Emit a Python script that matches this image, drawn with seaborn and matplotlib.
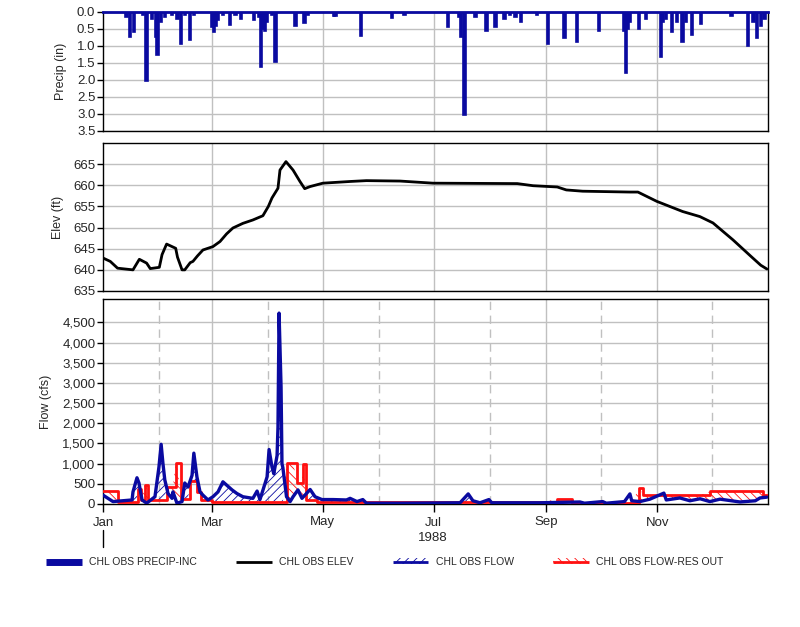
import matplotlib
matplotlib.use('Agg')
import matplotlib.dates as mdates
import matplotlib.ticker as mticker
import numpy as np
import pandas as pd
import seaborn as sns
from matplotlib import pyplot as plt
from matplotlib.lines import Line2D
from matplotlib.patches import Patch

# ---- data (day offset from 1988-01-01, value) ----
precip_day = [13, 15, 17, 22, 24, 27, 29, 30, 32, 34, 38, 41, 43, 45, 48, 50,
              60, 61, 62, 63, 66, 70, 73, 76, 83, 86, 87, 88, 89, 90, 93, 95,
              106, 111, 113, 127, 128, 142, 159, 166,
              190, 196, 197, 199, 205, 211, 216, 221, 224, 227, 230, 239,
              245, 254, 261, 273, 287, 288, 289, 290, 295, 299,
              307, 308, 310, 313, 316, 319, 321, 324, 329, 346, 355, 358, 360, 362, 364]
precip_in = [0.15, 0.75, 0.6, 0.1, 2.03, 0.2, 0.75, 1.27, 0.3, 0.15, 0.1, 0.2, 0.95, 0.1, 0.83, 0.1,
             0.45, 0.6, 0.4, 0.25, 0.1, 0.37, 0.1, 0.2, 0.25, 0.15, 1.62, 0.5, 0.55, 0.3, 0.1, 1.48,
             0.4, 0.33, 0.1, 0.13, 0.13, 0.7, 0.18, 0.1,
             0.44, 0.15, 0.75, 3.03, 0.15, 0.57, 0.45, 0.2, 0.1, 0.15, 0.3, 0.1,
             0.95, 0.76, 0.88, 0.55, 0.55, 1.78, 0.5, 0.3, 0.5, 0.2,
             1.32, 0.3, 0.2, 0.6, 0.3, 0.87, 0.3, 0.68, 0.35, 0.12, 1.0, 0.3, 0.76, 0.4, 0.2]

elev_day = [0, 4, 8, 16.5, 20, 24, 26, 31, 32.5, 35, 40, 41, 43.5, 45, 48, 49.5, 52, 55,
            60.5, 64.4, 68, 71.5, 77, 82.5, 88, 91, 93, 96.3, 97.4, 100.7, 104.6, 108.4,
            111, 114, 121, 136, 145, 163.5, 181.6, 228, 236.7, 250, 255, 264, 290, 294.4,
            304.8, 319, 328.5, 335.7, 346.7, 356.6, 362, 365.4]
elev_ft = [642.8, 642.0, 640.4, 640.0, 642.5, 641.6, 640.3, 640.6, 643.6, 646.1, 645.1, 643.0,
           640.0, 640.0, 641.7, 642.0, 643.3, 644.7, 645.5, 646.7, 648.5, 649.9, 651.0, 651.8,
           652.8, 655.0, 657.0, 659.3, 663.6, 665.6, 663.6, 660.9, 659.2, 659.7, 660.5, 660.9,
           661.1, 661.0, 660.5, 660.4, 659.9, 659.6, 658.9, 658.6, 658.4, 658.4, 656.2, 653.8,
           652.6, 651.1, 647.1, 643.2, 641.1, 640.2]

flow_day = [0, 5.5, 16, 16.5, 18.7, 19.8, 21.5, 24, 28.6, 30.8, 32, 33, 34, 35.8, 38, 38.5,
            40.7, 43.5, 45, 46.8, 49, 50, 51.7, 53.4, 55, 57.8, 60.5, 63.3, 66, 68, 71, 73.7,
            77, 82.5, 84.8, 86.4, 90.3, 91.4, 93, 94, 95.8, 96.3, 96.9, 98, 98.5, 99, 101,
            103, 104.6, 107.3, 109.5, 114, 116.7, 120.5, 126.6, 134, 136, 139.8, 143, 145,
            163.5, 196.5, 201, 203.6, 207.5, 212.4, 214, 240.5, 262.5, 265, 275, 277, 287,
            290, 291, 295.5, 301, 308.7, 310, 317.5, 323, 328.6, 334, 339.6, 350.6, 359,
            361.6, 365.4]
flow_cfs = [220, 60, 100, 300, 650, 520, 100, 20, 180, 920, 1480, 1000, 600, 260, 140, 300,
            20, 60, 520, 420, 710, 1260, 670, 300, 220, 100, 180, 300, 550, 470, 350, 260,
            180, 140, 320, 110, 670, 1350, 920, 750, 1200, 1900, 4730, 2900, 1000, 900, 180,
            60, 180, 350, 140, 360, 180, 110, 110, 100, 140, 60, 110, 20,
            20, 30, 250, 80, 30, 110, 30, 30, 50, 20, 60, 20, 60,
            250, 80, 60, 120, 270, 100, 150, 80, 130, 60, 120, 50, 80,
            150, 170]

resout_day = [0, 8, 19, 21, 23, 25, 35, 40, 43, 48, 52, 54, 60, 101, 107, 110, 112, 118,
              125, 250, 258, 295, 297, 334, 363, 366]
resout_cfs = [320, 60, 360, 100, 480, 100, 430, 1010, 130, 560, 300, 100, 60, 1020, 520, 990,
              100, 60, 40, 120, 30, 390, 220, 310, 230, 230]

month_major = ['1988-01-01', '1988-03-01', '1988-05-01', '1988-07-01', '1988-09-01', '1988-11-01']
month_minor = ['1988-02-01', '1988-04-01', '1988-06-01', '1988-08-01', '1988-10-01', '1988-12-01']
month_labels = ['Jan', 'Mar', 'May', 'Jul', 'Sep', 'Nov']

start = pd.Timestamp('1988-01-01')


def to_dates(days):
    return start + pd.to_timedelta(np.asarray(days, dtype=float), unit='D')


precip = pd.DataFrame({'date': to_dates(precip_day), 'value': precip_in})
elev = pd.DataFrame({'date': to_dates(elev_day), 'value': elev_ft})
flow = pd.DataFrame({'date': to_dates(flow_day), 'value': flow_cfs})
resout = pd.DataFrame({'date': to_dates(resout_day), 'value': resout_cfs})

BLUE = '#0a0aa0'
RED = '#ff1010'
GRID = '#c0c0c0'
FS = 9.5

sns.set_theme(style='white')
plt.rcParams['font.family'] = ['Liberation Sans', 'DejaVu Sans']
plt.rcParams['hatch.linewidth'] = 0.6

fig = plt.figure(figsize=(8, 6.27), dpi=100)
L, W = 103 / 800, 665 / 800
ax1 = fig.add_axes([L, 1 - 131 / 627, W, 119 / 627])
ax2 = fig.add_axes([L, 1 - 291 / 627, W, 148 / 627])
ax3 = fig.add_axes([L, 1 - 504 / 627, W, 205 / 627])

xmin, xmax = start, pd.Timestamp('1989-01-01')
major = pd.to_datetime(month_major)
minor = pd.to_datetime(month_minor)

for ax in (ax1, ax2, ax3):
    ax.set_xlim(xmin, xmax)
    ax.set_xticks(major)
    ax.set_xticklabels([])
    ax.grid(True, axis='y', color=GRID, lw=1)
    for m in major[1:]:
        ax.axvline(m, color=GRID, lw=1, zorder=0)
    for s in ax.spines.values():
        s.set_color('black')
        s.set_linewidth(1)
    ax.tick_params(axis='y', which='major', left=True, length=4, width=1, labelsize=FS,
                   pad=1.5, color='black')
    ax.tick_params(axis='x', which='major', bottom=False, length=0)
    ax.set_axisbelow(True)

# precip
ax1.bar(precip['date'], precip['value'], width=1.3, color=BLUE, edgecolor=BLUE, lw=1.2, zorder=3)
ax1.set_ylim(3.5, 0)
ax1.set_yticks(np.arange(0, 3.51, 0.5))
ax1.yaxis.set_major_formatter(mticker.FormatStrFormatter('%.1f'))
ax1.spines['top'].set_color(BLUE)
ax1.spines['top'].set_linewidth(2)
ax1.set_ylabel('Precip (in)', fontsize=9, labelpad=7)

# elev
sns.lineplot(data=elev, x='date', y='value', ax=ax2, color='black', lw=2,
             estimator=None, sort=False)
ax2.set_ylim(635, 670)
ax2.set_yticks(np.arange(635, 666, 5))
ax2.set_ylabel('Elev (ft)', fontsize=9, labelpad=7)
ax2.set_xlabel('')

# flow
for m in minor:
    ax3.axvline(m, color=GRID, lw=1, ls=(0, (6, 4)), zorder=0)
x_all = np.union1d(mdates.date2num(flow['date']), mdates.date2num(resout['date']))
res_steps = resout['value'].to_numpy()[np.searchsorted(mdates.date2num(resout['date']), x_all,
                                                       side='right') - 1]
flow_on = np.interp(x_all, mdates.date2num(flow['date']), flow['value'])
ax3.fill_between(x_all, flow_on, res_steps, where=flow_on >= res_steps, interpolate=True,
                 facecolor='none', edgecolor=BLUE, hatch='////', lw=0, zorder=2)
ax3.fill_between(x_all, flow_on, res_steps, where=flow_on < res_steps, interpolate=True,
                 facecolor='none', edgecolor=RED, hatch='\\\\\\\\', lw=0, zorder=2)
sns.lineplot(data=resout, x='date', y='value', ax=ax3, color=RED, lw=2,
             drawstyle='steps-post', estimator=None, sort=False, zorder=3)
sns.lineplot(data=flow, x='date', y='value', ax=ax3, color=BLUE, lw=2.4,
             estimator=None, sort=False, zorder=4)
ax3.set_xlim(xmin, xmax)
ax3.set_ylim(0, 5080)
ax3.set_yticks(np.arange(0, 4501, 500))
ax3.yaxis.set_major_formatter(mticker.FuncFormatter(lambda v, p: f'{int(v):,}'))
ax3.set_ylabel('Flow (cfs)', fontsize=9, labelpad=7)
ax3.set_xlabel('')
ax3.set_xticks(major)
ax3.set_xticklabels(month_labels)
ax3.tick_params(axis='x', which='major', bottom=True, length=6, width=1, labelsize=FS,
                pad=3, color='black')

fig.text(433 / 800, 1 - 538 / 627, '1988', ha='center', va='center', fontsize=FS)
fig.add_artist(Line2D([L, L], [1 - 530 / 627, 1 - 547 / 627], color='black', lw=1))

handles = [
    Line2D([], [], color=BLUE, lw=5, solid_capstyle='butt'),
    Line2D([], [], color='black', lw=2, solid_capstyle='butt'),
    (Patch(facecolor='none', edgecolor=BLUE, hatch='////', lw=0),
     Line2D([], [], color=BLUE, lw=2, solid_capstyle='butt')),
    (Patch(facecolor='none', edgecolor=RED, hatch='\\\\\\\\', lw=0),
     Line2D([], [], color=RED, lw=2, solid_capstyle='butt')),
]
labels = ['CHL OBS PRECIP-INC', 'CHL OBS ELEV', 'CHL OBS FLOW', 'CHL OBS FLOW-RES OUT']
fig.legend(handles, labels, loc='center left', bbox_to_anchor=(42 / 800, 1 - 562 / 627),
           ncol=4, frameon=False, fontsize=7.5, handlelength=3.4, handleheight=0.5,
           handletextpad=0.7, columnspacing=3.8, borderaxespad=0)

fig.savefig('out.png', dpi=100)
plt.close(fig)
